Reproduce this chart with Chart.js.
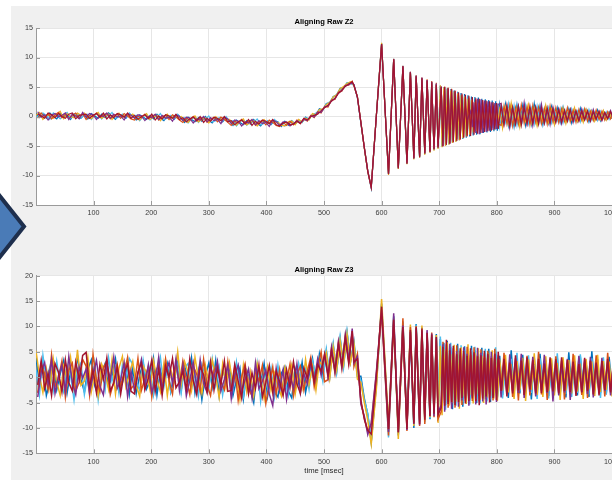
<!DOCTYPE html>
<html>
<head>
<meta charset="utf-8">
<script src="https://cdn.jsdelivr.net/npm/chart.js@4.4.1/dist/chart.umd.min.js"></script>
<style>
  body { margin: 0; width: 612px; height: 480px; overflow: hidden; background: #fff; position: relative; }
  #fig { position: absolute; left: 11px; top: 6px; right: 0; bottom: 0; background: #f0f0f0; }
  .panel { position: absolute; left: 0; width: 612px; height: 240px; }
  #arrow { position: absolute; left: 0; top: 0; }
</style>
</head>
<body>
<div id="fig"></div>
<div class="panel" style="top:0"><canvas id="z2" width="612" height="240"></canvas></div>
<div class="panel" style="top:240px"><canvas id="z3" width="612" height="240"></canvas></div>
<svg id="arrow" width="60" height="480">
  <polygon points="-20,171 24,226.5 -20,282" fill="#4a7bb7" stroke="#1e2f4d" stroke-width="4" stroke-linejoin="miter"/>
</svg>
<script>
// sample times (ms): 6 ms steps up to the first trough, then peaks/troughs of the ringing
const timeMs = [
  0, 6, 12, 18, 24, 30, 36, 42, 48, 54, 60, 66, 72, 78,
  84, 90, 96, 102, 108, 114, 120, 126, 132, 138, 144, 150, 156, 162,
  168, 174, 180, 186, 192, 198, 204, 210, 216, 222, 228, 234, 240, 246,
  252, 258, 264, 270, 276, 282, 288, 294, 300, 306, 312, 318, 324, 330,
  336, 342, 348, 354, 360, 366, 372, 378, 384, 390, 396, 402, 408, 414,
  420, 426, 432, 438, 444, 450, 456, 462, 468, 474, 480, 486, 492, 498,
  504, 510, 516, 522, 528, 534, 540, 546, 552, 558, 564, 570, 576, 582,
  591, 600, 612, 621, 629, 637, 644, 650, 656, 660, 666, 670, 675, 679, 684, 687, 691, 695, 698,
  702, 705, 708, 711, 714, 717, 720, 723, 726, 729, 732, 735, 738, 741, 744, 747, 750,
  753, 756, 759, 762, 765, 768, 771, 774, 777, 780, 783, 786, 789, 792, 795, 798, 801,
  805, 810, 815, 820, 825, 830, 835, 840, 845, 850, 855, 860, 865, 870, 875, 880, 885, 890, 895, 900,
  905, 910, 915, 920, 925, 930, 935, 940, 945, 950, 955, 960, 965, 970, 975, 980, 985, 990, 995, 1000
];
// the same run sampled half a step later (noisy parts only)
const timeMsShift = [
  3, 9, 15, 21, 27, 33, 39, 45, 51, 57, 63, 69, 75, 81,
  87, 93, 99, 105, 111, 117, 123, 129, 135, 141, 147, 153, 159, 165,
  171, 177, 183, 189, 195, 201, 207, 213, 219, 225, 231, 237, 243, 249,
  255, 261, 267, 273, 279, 285, 291, 297, 303, 309, 315, 321, 327, 333,
  339, 345, 351, 357, 363, 369, 375, 381, 387, 393, 399, 405, 411, 417,
  423, 429, 435, 441, 447, 453, 459, 465, 471, 477, 483, 489, 495, 501,
  507, 513, 519, 525, 531, 537, 543, 549, 552, 558, 564, 570, 576, 582,
  591, 600, 612, 621, 629, 637, 644, 650, 656, 660, 666, 670, 675, 679, 684, 687, 691, 695, 698,
  703.5, 706.5, 709.5, 712.5, 715.5, 718.5, 721.5, 724.5, 727.5, 730.5, 733.5, 736.5, 739.5, 742.5, 745.5, 748.5, 751.5,
  754.5, 757.5, 760.5, 763.5, 766.5, 769.5, 772.5, 775.5, 778.5, 781.5, 784.5, 787.5, 790.5, 793.5, 796.5, 799.5, 802.5,
  807.5, 812.5, 817.5, 822.5, 827.5, 832.5, 837.5, 842.5, 847.5, 852.5, 857.5, 862.5, 867.5, 872.5, 877.5, 882.5, 887.5, 892.5, 897.5, 902.5,
  907.5, 912.5, 917.5, 922.5, 927.5, 932.5, 937.5, 942.5, 947.5, 952.5, 957.5, 962.5, 967.5, 972.5, 977.5, 982.5, 987.5, 992.5, 997.5, 1002.5
];

const xTicks = [100, 200, 300, 400, 500, 600, 700, 800, 900, 1000];
const runColors = ["#0072BD", "#D95319", "#EDB120", "#7E2F8E", "#4DBEEE", "#A2142F"];
// drawing order, first one ends up on top
const stackOrder = [5, 3, 1, 2, 4, 0];

// ---- Aligning Raw Z2 ----
const z2Run1 = [
  0.5, -0.2, 0.4, -0.3, 0.6, 0.0, -0.4, 0.5, -0.1, 0.3, -0.5, 0.4, 0.1, -0.3,
  0.3, -0.4, 0.5, 0.1, -0.3, 0.4, -0.2, 0.6, 0.0, -0.5, 0.3, 0.2, -0.3, 0.4,
  0.2, -0.6, 0.3, -0.1, -0.5, 0.2, -0.4, 0.4, -0.3, -0.7, 0.1, 0.0, -0.5, 0.3,
  -0.2, -1.0, -0.1, -0.5, -0.9, -0.2, -0.8, 0.0, -0.7, -1.1, -0.3, -0.4, -0.9, -0.2,
  -0.7, -1.5, -0.6, -1.0, -1.4, -0.7, -1.3, -0.5, -1.2, -1.6, -0.8, -0.9, -1.4, -0.7,
  -0.9, -1.7, -0.8, -1.5, -0.7, -1.3, -0.6, -1.0, -0.1, -0.5, 0.4, 0.2, 1.3, 1.1,
  2.2, 2.3, 3.4, 3.6, 4.8, 4.9, 5.7, 5.6, 5.4, 3.2, -1.1, -5.3, -9.3, -12.1,
  0.3, 12.4, -9.8, 9.7, -8.8, 8.5, -8.0, 7.5, -7.1, 6.9, -6.9, 6.5, -6.3, 6.1, -6.0, 5.8, -5.6, 5.5, -5.3,
  5.2, -5.1, 5.0, -4.9, 4.8, -4.7, 4.6, -4.4, 4.4, -4.2, 4.2, -4.0, 4.0, -3.8, 3.8, -3.6, 3.6,
  -3.4, 3.4, -3.2, 3.3, -3.1, 3.2, -3.0, 3.0, -2.8, 2.9, -2.7, 2.8, -2.6, 2.7, -2.5, 2.6, -2.4,
  2.0, -1.6, 2.1, -1.5, 1.8, -1.7, 2.0, -1.4, 1.9, -1.5, 1.7, -1.3, 2.2, -1.2, 1.8, -1.4, 1.6, -1.1, 1.7, -1.2,
  1.5, -1.0, 1.6, -0.9, 1.3, -1.1, 1.2, -0.8, 1.4, -0.7, 1.1, -0.9, 1.0, -0.6, 1.1, -0.7, 0.9, -0.5, 0.8, -0.4
];
const z2Run2 = [
  -0.3, 0.6, -0.1, 0.5, -0.4, 0.3, 0.7, -0.2, 0.4, -0.4, 0.2, 0.6, -0.3, 0.5,
  -0.5, 0.2, 0.0, 0.6, -0.2, 0.3, 0.5, -0.4, 0.2, 0.4, -0.3, 0.5, 0.1, -0.4,
  -0.6, 0.1, -0.2, 0.4, -0.4, 0.1, 0.3, -0.6, 0.0, 0.2, -0.5, 0.3, -0.1, -0.6,
  -1.0, -0.3, -0.6, 0.0, -0.8, -0.3, -0.1, -1.0, -0.4, -0.2, -0.9, -0.1, -0.5, -1.0,
  -1.5, -0.8, -1.1, -0.5, -1.3, -0.8, -0.6, -1.5, -0.9, -0.7, -1.4, -0.6, -1.0, -1.5,
  -1.7, -1.0, -1.5, -0.8, -1.4, -0.6, -1.2, -0.4, -0.8, 0.2, -0.2, 0.8, 0.6, 1.7,
  1.6, 2.8, 2.9, 4.1, 4.3, 5.3, 5.3, 6.0, 5.2, 3.4, -0.9, -5.2, -9.2, -11.9,
  0.2, 12.2, -9.6, 9.8, -8.6, 8.6, -7.8, 7.6, -7.0, 7.0, -6.7, 6.6, -6.1, 6.3, -5.8, 6.0, -5.4, 5.7, -5.1,
  5.0, -4.9, 5.1, -4.7, 4.9, -4.5, 4.7, -4.3, 4.3, -4.1, 4.0, -3.9, 3.7, -3.5, 3.5, -3.2, 3.2,
  -2.9, 3.0, -2.6, 2.8, -2.4, 2.5, -2.2, 2.4, -2.0, 2.1, -1.9, 2.2, -1.6, 1.8, -1.5, 2.0, -1.3,
  -1.5, 1.8, -1.2, 1.9, -1.6, 1.5, -1.3, 2.0, -1.1, 1.7, -1.4, 1.9, -1.0, 1.6, -1.2, 1.4, -1.3, 1.8, -0.9, 1.5,
  -1.0, 1.3, -0.8, 1.5, -0.9, 1.1, -1.0, 1.2, -0.6, 1.3, -0.8, 0.9, -0.7, 1.1, -0.5, 0.9, -0.6, 0.8, -0.4, 0.7
];
const z2Run3 = [
  0.2, 0.7, -0.5, 0.1, 0.4, -0.3, 0.3, 0.9, -0.4, 0.5, 0.0, -0.2, 0.6, 0.2,
  0.6, -0.1, -0.4, 0.3, 0.7, -0.3, 0.1, 0.4, -0.5, 0.2, 0.6, -0.2, 0.3, 0.0,
  0.4, -0.3, -0.6, 0.1, 0.5, -0.5, -0.1, 0.2, -0.7, 0.0, 0.4, -0.4, 0.1, -0.2,
  0.0, -0.7, -1.0, -0.3, 0.1, -0.9, -0.5, -0.2, -1.1, -0.4, 0.0, -0.8, -0.3, -0.6,
  -0.5, -1.2, -1.5, -0.8, -0.4, -1.4, -1.0, -0.7, -1.6, -0.9, -0.5, -1.3, -0.8, -1.1,
  -1.0, -1.5, -1.6, -0.9, -0.8, -1.4, -0.5, -0.9, -0.3, -0.6, 0.5, 0.3, 1.2, 1.3,
  2.0, 2.4, 3.3, 3.7, 4.7, 5.1, 5.6, 5.9, 5.3, 3.3, -1.0, -5.4, -9.4, -12.0,
  0.4, 12.5, -9.9, 9.6, -8.9, 8.4, -8.1, 7.4, -7.3, 6.8, -7.0, 6.4, -6.5, 6.0, -6.2, 5.7, -5.8, 5.4, -5.5,
  5.3, -5.2, 4.9, -5.0, 4.6, -4.8, 4.4, -4.5, 4.2, -4.3, 3.9, -4.0, 3.6, -3.7, 3.3, -3.4, 3.0,
  -3.1, 2.8, -2.7, 2.5, -2.5, 2.2, -2.2, 2.0, -1.9, 1.8, -1.7, 1.6, -1.5, 1.4, -1.5, 1.3, -1.2,
  1.2, -2.0, 1.5, -1.2, 2.3, -1.0, 1.4, -1.8, 1.1, -0.8, 2.0, -1.1, 1.3, -1.6, 0.9, -0.9, 1.9, -1.0, 1.2, -1.4,
  0.8, -0.6, 1.4, -1.2, 0.9, -0.5, 1.5, -0.8, 0.7, -1.0, 1.2, -0.4, 0.9, -0.8, 0.6, -0.5, 1.0, -0.6, 0.7, -0.3
];
const z2Run4 = [
  0.8, -0.1, 0.3, -0.6, 0.2, 0.5, -0.1, 0.2, 0.6, -0.5, 0.4, 0.1, -0.4, 0.7,
  -0.1, 0.5, 0.3, -0.5, 0.2, 0.0, 0.6, -0.3, 0.4, -0.1, 0.1, -0.6, 0.5, 0.2,
  -0.3, 0.3, 0.1, -0.7, 0.0, -0.2, 0.4, -0.5, 0.2, -0.3, -0.1, -0.8, 0.3, 0.0,
  -0.7, -0.1, -0.3, -1.1, -0.4, -0.6, 0.0, -0.9, -0.2, -0.7, -0.5, -1.2, -0.1, -0.4,
  -1.2, -0.6, -0.8, -1.6, -0.9, -1.1, -0.5, -1.4, -0.7, -1.2, -1.0, -1.7, -0.6, -0.9,
  -1.5, -0.9, -1.0, -1.6, -1.2, -0.7, -1.1, -0.5, -0.7, 0.1, -0.1, 0.7, 0.7, 1.6,
  1.8, 2.7, 3.0, 4.0, 4.4, 5.2, 5.4, 5.7, 5.4, 3.2, -1.0, -5.3, -9.3, -12.0,
  0.3, 12.3, -9.7, 9.7, -8.7, 8.5, -7.9, 7.6, -7.1, 6.9, -6.8, 6.6, -6.2, 6.2, -5.9, 5.9, -5.5, 5.6, -5.2,
  5.1, -5.0, 4.9, -4.8, 4.7, -4.6, 4.4, -4.2, 4.1, -3.8, 3.6, -3.2, 2.8, -2.2, 1.5, -0.8, 0.2,
  0.9, -1.8, 2.4, -2.8, 3.0, -3.0, 2.9, -2.8, 2.7, -2.6, 2.6, -2.4, 2.4, -2.3, 2.3, -2.1, 2.1,
  2.2, -1.3, 1.6, -1.9, 1.4, -1.2, 1.8, -1.0, 2.4, -1.3, 1.2, -1.6, 1.5, -0.9, 2.1, -1.1, 1.0, -1.4, 1.6, -0.8,
  1.3, -1.2, 0.8, -0.7, 1.2, -1.0, 0.9, -0.6, 1.3, -0.5, 0.8, -0.8, 1.2, -0.4, 0.8, -0.7, 0.6, -0.3, 1.0, -0.5
];
const z2Run5 = [
  -0.2, 0.3, 0.6, 0.2, -0.5, 0.6, 0.2, -0.4, 0.3, 0.7, -0.3, 0.2, 0.5, -0.2,
  0.2, 0.4, -0.5, 0.2, 0.5, -0.4, 0.3, 0.1, 0.7, -0.3, -0.1, 0.4, -0.2, 0.6,
  0.0, 0.2, -0.7, 0.0, 0.3, -0.6, 0.1, -0.1, 0.5, -0.5, -0.3, 0.2, -0.4, 0.4,
  -0.4, -0.2, -1.1, -0.4, -0.1, -1.0, -0.3, -0.5, 0.1, -0.9, -0.7, -0.2, -0.8, 0.0,
  -0.9, -0.7, -1.6, -0.9, -0.6, -1.5, -0.8, -1.0, -0.4, -1.4, -1.2, -0.7, -1.3, -0.5,
  -1.1, -1.4, -1.6, -1.0, -0.8, -1.3, -0.6, -1.0, -0.2, -0.4, 0.3, 0.6, 1.1, 1.2,
  2.1, 2.5, 3.2, 3.8, 4.6, 4.8, 5.7, 5.8, 5.2, 3.4, -1.1, -5.3, -9.2, -12.1,
  0.2, 12.4, -9.8, 9.8, -8.8, 8.6, -8.0, 7.5, -7.2, 6.9, -6.9, 6.5, -6.4, 6.1, -6.1, 5.8, -5.7, 5.5, -5.4,
  5.2, -5.0, 5.0, -4.9, 4.7, -4.7, 4.5, -4.4, 4.3, -4.2, 4.1, -3.9, 3.9, -3.7, 3.5, -3.3, 3.2,
  -3.0, 2.9, -2.6, 2.4, -2.0, 1.6, -1.1, 0.6, 0.0, -0.6, 1.0, -1.5, 1.8, -2.0, 2.1, -2.2, 2.2,
  -1.8, 1.4, -1.0, 2.2, -1.2, 1.9, -1.5, 1.3, -0.9, 2.0, -1.2, 1.4, -1.3, 1.8, -1.0, 1.2, -0.8, 1.5, -1.1, 1.1,
  -0.7, 1.4, -1.1, 1.0, -0.6, 1.3, -0.7, 0.9, -0.9, 1.1, -0.5, 1.2, -0.6, 0.7, -0.7, 0.9, -0.3, 0.8, -0.5, 0.6
];
const z2Run6 = [
  0.4, 0.1, -0.3, 0.6, 0.3, -0.2, 0.5, 0.0, -0.3, 0.4, 0.6, -0.4, 0.2, 0.3,
  0.4, -0.3, 0.2, 0.5, -0.1, 0.6, -0.4, 0.3, -0.2, 0.5, 0.3, -0.1, 0.6, -0.3,
  0.2, -0.5, 0.0, 0.3, -0.3, 0.4, -0.6, 0.1, -0.4, 0.3, 0.1, -0.3, 0.4, -0.5,
  -0.2, -0.9, -0.4, -0.1, -0.7, 0.0, -1.0, -0.3, -0.8, -0.1, -0.3, -0.7, 0.0, -0.9,
  -0.7, -1.4, -0.9, -0.6, -1.2, -0.5, -1.5, -0.8, -1.3, -0.6, -0.8, -1.2, -0.5, -1.4,
  -1.6, -1.1, -0.9, -1.4, -1.3, -0.8, -1.2, -0.3, -0.6, 0.0, 0.2, 0.4, 1.0, 1.5,
  1.9, 2.6, 3.1, 3.9, 4.5, 5.1, 5.5, 5.9, 5.3, 3.3, -1.0, -5.3, -9.3, -12.0,
  0.3, 12.3, -9.8, 9.7, -8.8, 8.5, -8.0, 7.5, -7.1, 6.8, -6.9, 6.5, -6.3, 6.1, -6.0, 5.8, -5.6, 5.4, -5.3,
  5.1, -5.1, 5.0, -4.8, 4.8, -4.6, 4.6, -4.4, 4.4, -4.1, 4.1, -3.9, 3.9, -3.6, 3.7, -3.4, 3.5,
  -3.3, 3.3, -3.1, 3.1, -2.9, 3.0, -2.8, 2.8, -2.6, 2.7, -2.5, 2.6, -2.4, 2.4, -2.2, 2.3, -2.1,
  1.8, -1.4, 1.9, -1.6, 1.6, -1.3, 1.7, -1.5, 1.5, -1.2, 1.8, -1.0, 1.6, -1.3, 1.4, -1.1, 1.5, -0.9, 1.3, -1.0,
  1.2, -0.9, 1.1, -0.8, 1.2, -0.7, 1.0, -0.8, 0.9, -0.6, 1.0, -0.7, 0.8, -0.5, 0.9, -0.6, 0.7, -0.4, 0.8, -0.3
];

// ---- Aligning Raw Z3 ----
const z3Run1 = [
  3.8, -1.2, 2.4, -3.6, -0.8, 2.9, -2.5, 0.6, 3.3, -3.1, 1.1, -2.2, 4.2, -0.4,
  -2.9, 1.5, 3.4, -1.7, -3.8, 0.9, 2.7, -2.0, 0.3, 3.6, -2.6, -1.1, 2.2, -3.4,
  1.8, -3.2, 0.4, 2.9, -2.3, -0.6, 3.7, -3.5, 1.3, -1.0, 2.6, -2.8, 0.7, 3.1,
  -2.6, 2.3, -0.9, 3.8, -3.1, 1.2, -4.4, 0.2, 2.8, -1.9, 3.3, -3.6, 1.6, -0.7,
  2.1, -3.6, -0.5, 1.8, -4.3, 0.9, -2.4, -5.0, 1.5, -1.3, 2.7, -3.8, 0.2, -2.9,
  -3.9, 0.8, 2.1, -2.7, -4.1, 1.6, -1.2, 2.9, -3.0, 0.4, 3.7, -1.5, 4.5, 0.3,
  5.2, 0.1, 6.3, 1.2, 7.6, 2.3, 8.8, 3.0, 7.0, 0.2, 0.2, -4.2, -7.4, -12.8,
  -1.5, 14.5, -10.0, 12.0, -11.5, 10.8, -9.5, 9.0, -10.0, 10.5, -8.5, 9.8, -8.0, 8.2, -8.3, 7.9, -6.8, 8.5, -7.0,
  7.5, -6.2, 6.8, -5.5, 7.2, -4.8, 6.0, -6.3, 5.5, -4.2, 6.6, -5.0, 4.8, -5.8, 6.1, -3.9, 5.5,
  -4.6, 6.2, -4.0, 5.3, -5.1, 4.6, -3.6, 5.8, -4.4, 4.9, -3.8, 5.6, -4.9, 4.2, -3.5, 5.1, -4.0,
  4.2, -3.5, 3.0, -4.1, 5.3, -2.6, 3.6, -3.2, 4.4, -2.9, 2.8, -4.4, 3.9, -3.0, 4.6, -2.2, 3.3, -3.7, 2.6, -2.8,
  3.8, -3.3, 2.5, -4.0, 4.9, -2.7, 3.2, -3.6, 4.1, -2.4, 3.0, -3.9, 5.1, -2.6, 3.5, -3.1, 2.7, -3.4, 4.0, -2.5
];
const z3Run2 = [
  -3.1, 2.6, 0.7, -2.4, 4.4, -1.8, -0.3, 3.2, -3.9, 1.4, 2.8, -2.7, -1.0, 3.5,
  2.2, -3.5, 4.5, -0.6, -2.8, 1.9, 3.1, -3.4, -0.9, 2.5, -1.6, 0.8, 3.9, -2.3,
  -1.4, 3.7, -2.6, -0.2, 2.1, -3.9, 1.0, 2.4, -2.1, 3.6, -0.7, -3.3, 2.9, -1.2,
  3.2, -0.5, -3.4, 2.2, 0.6, -2.7, 3.5, -1.6, -3.6, 1.3, 2.6, -0.8, -2.5, 3.0,
  -3.0, 1.9, -4.6, 0.1, 2.6, -2.2, -3.7, 1.4, -0.9, 2.3, -5.1, -1.5, 2.0, -3.4,
  1.5, -3.2, -0.7, 2.6, -3.6, 0.5, 2.2, -2.5, 1.2, 3.9, -1.9, 2.0, 5.0, -0.9,
  -0.5, 5.6, 0.8, 6.8, 1.7, 8.1, 3.0, 8.9, 2.1, 4.6, -4.9, -8.0, -10.8, -9.3,
  0.8, 12.6, -11.5, 10.5, -10.3, 11.6, -10.6, 9.9, -8.8, 9.4, -9.6, 8.8, -9.2, 9.0, -7.2, 8.8, -7.9, 7.4, -8.2,
  -6.8, 7.0, -5.0, 6.5, -6.0, 5.8, -5.4, 4.9, -6.0, 6.3, -4.4, 5.2, -5.5, 4.6, -4.8, 6.0, -4.1,
  5.0, -4.7, 5.9, -3.9, 4.4, -4.8, 5.5, -3.6, 4.7, -4.3, 5.2, -3.3, 4.1, -4.6, 5.6, -3.2, 4.3,
  -3.2, 4.8, -2.5, 3.4, -3.9, 2.9, -4.6, 3.8, -2.4, 4.2, -3.6, 2.7, -2.8, 5.0, -3.4, 3.1, -4.5, 2.4, -3.3, 4.1,
  -2.9, 3.3, -4.4, 2.8, -3.1, 4.6, -2.3, 3.7, -3.5, 2.9, -4.1, 3.2, -2.7, 4.3, -3.0, 2.6, -3.8, 4.8, -2.6, 3.4
];
const z3Run3 = [
  5.2, 0.2, -3.0, 1.7, -2.2, 3.6, -0.9, -3.6, 2.2, -0.5, 3.9, -2.0, 5.4, -1.6,
  -0.8, 3.9, -2.9, 0.5, -3.7, 2.6, 0.9, -2.4, 3.5, -3.3, 1.8, 4.1, -1.9, 0.6,
  3.1, -1.6, -3.8, 2.2, 0.9, -2.5, 3.2, -0.4, -2.9, 2.7, -3.6, 1.5, -0.8, 5.0,
  -1.5, 3.1, 1.0, -2.6, 3.9, -0.3, -3.2, 2.4, -1.1, 3.4, 0.1, -4.0, 2.6, -2.0,
  2.8, -1.4, 0.6, -4.4, 2.3, -2.9, 1.1, -3.6, 2.7, -0.2, -4.2, 1.9, -2.6, 0.8,
  -1.8, -3.7, 1.9, -0.6, 2.4, -3.3, 0.8, -2.1, 3.5, -1.4, 2.1, -2.6, 3.1, 2.2,
  4.8, -0.2, 6.0, 1.5, 7.2, 2.6, 8.5, 2.9, 6.6, -0.4, -1.0, -5.0, -8.5, -13.2,
  -2.2, 15.4, -9.3, 11.6, -12.2, 9.6, -9.9, 10.4, -9.6, 10.1, -8.2, 10.2, -8.6, 7.8, -7.9, 8.0, -7.0, 8.3, -9.0,
  6.2, -7.5, 5.5, -4.6, 6.9, -5.6, 4.5, -5.0, 6.4, -4.8, 5.0, -6.2, 5.9, -3.8, 4.5, -5.3, 6.5,
  -3.5, 4.4, -5.2, 4.8, -3.4, 5.7, -4.5, 4.2, -5.1, 3.9, -4.0, 4.7, -3.7, 5.3, -4.2, 3.7, -4.7,
  3.5, -2.6, 4.4, -3.0, 2.6, -4.3, 3.2, -2.4, 3.8, -4.7, 3.5, -2.5, 4.7, -3.5, 2.5, -3.9, 4.1, -2.7, 3.7, -3.6,
  2.8, -4.5, 3.9, -2.6, 3.4, -3.2, 4.3, -2.8, 2.7, -4.3, 3.6, -2.4, 3.1, -3.7, 4.4, -2.9, 3.2, -2.5, 3.1, -3.8
];
const z3Run4 = [
  -3.9, 1.0, 2.9, -1.4, 3.4, -3.2, 0.3, 2.4, -2.8, 4.1, -1.0, -3.4, 2.0, -0.2,
  1.6, -3.0, 0.2, 3.3, -1.8, -3.5, 2.6, -0.4, 4.0, -2.2, -0.6, 2.9, -3.8, 1.2,
  -2.7, 0.6, 3.5, -1.8, 2.4, -3.0, -0.9, 3.9, -2.4, 0.8, 2.9, -1.3, 3.6, -2.6,
  2.4, -3.7, -0.6, 2.9, -2.0, 3.4, -1.3, -3.0, 1.9, -0.1, 3.1, -2.7, -0.4, 2.3,
  -4.2, 0.4, 2.4, -2.9, -0.5, 1.6, -4.0, 2.8, -2.3, -0.8, 1.5, -3.3, -5.6, 1.7,
  -2.6, 1.4, -4.4, 0.3, -2.2, 2.6, -3.1, 0.7, -1.3, 2.9, -0.6, 3.6, 0.4, 4.4,
  0.0, 5.9, 1.1, 7.0, 2.0, 8.4, 3.3, 9.6, 2.8, 4.1, -5.3, -7.7, -11.3, -9.0,
  1.2, 13.3, -10.8, 12.6, -10.8, 10.2, -10.4, 8.9, -9.2, 9.7, -9.4, 9.2, -7.8, 9.3, -7.6, 8.6, -7.7, 7.8, -6.9,
  -5.5, 6.5, -6.8, 5.0, -4.9, 6.6, -6.2, 5.7, -4.4, 5.1, -5.8, 4.4, -4.6, 5.9, -4.2, 4.6, -5.6,
  4.3, -3.8, 4.5, -5.4, 5.8, -3.7, 4.8, -4.8, 3.8, -5.4, 4.4, -4.2, 5.0, -3.6, 4.6, -4.9, 3.9,
  -4.0, 3.1, -3.3, 4.5, -2.7, 3.7, -3.1, 4.6, -4.1, 2.6, -2.9, 4.0, -3.8, 2.8, -2.6, 4.4, -3.1, 3.5, -4.8, 2.9,
  -3.6, 2.7, -3.0, 3.6, -4.5, 2.9, -3.4, 4.2, -2.9, 3.5, -3.3, 4.0, -4.0, 2.7, -3.2, 3.8, -2.7, 3.0, -3.6, 2.6
];
const z3Run5 = [
  1.4, -3.5, 4.3, -0.6, 2.0, -2.6, 3.1, -1.5, -3.0, 2.3, 0.5, -4.5, 1.6, 2.8,
  -3.4, 0.6, -1.5, 2.9, -4.4, 1.2, -2.5, 3.8, -0.7, 1.9, -3.1, 2.4, -0.2, 3.7,
  2.5, -0.9, -2.6, 3.3, -1.2, 2.0, -3.5, 0.3, 3.9, -2.0, 1.5, -2.9, -0.6, 2.4,
  -3.1, 1.9, 2.7, -2.3, 0.8, -3.7, 2.5, 0.2, -2.4, 3.5, -1.6, 2.0, -3.5, 1.0,
  0.6, -2.5, 3.0, -1.6, -3.9, 1.3, -0.4, -3.0, 2.6, -4.7, 0.9, -2.1, 1.8, -3.8,
  2.3, -2.8, -0.5, -3.6, 1.9, -2.5, 2.7, -0.7, 1.6, -2.4, 3.2, 0.4, 2.9, -0.8,
  5.5, 0.6, 6.6, 1.0, 7.9, 2.0, 9.0, 3.5, 6.3, 0.5, -0.6, -4.6, -7.2, -12.5,
  -0.9, 14.0, -11.9, 10.9, -11.2, 11.0, -9.7, 9.6, -9.5, 10.4, -8.9, 9.4, -8.9, 8.4, -8.1, 8.2, -7.4, 8.1, -7.6,
  8.0, -5.8, 6.1, -6.4, 5.4, -4.4, 6.8, -4.7, 5.0, -5.6, 4.6, -4.6, 6.3, -4.9, 5.3, -4.4, 4.4,
  -5.4, 5.4, -3.5, 6.0, -4.3, 4.0, -5.2, 4.6, -3.9, 5.6, -4.8, 3.9, -4.4, 4.8, -3.8, 5.9, -3.8,
  2.9, -4.2, 2.6, -2.8, 3.6, -3.4, 4.8, -2.7, 3.1, -3.3, 4.3, -3.1, 2.4, -4.3, 3.7, -2.6, 3.0, -4.2, 3.4, -2.4,
  4.7, -2.8, 3.4, -3.3, 2.6, -3.9, 2.9, -3.1, 4.5, -3.0, 2.6, -3.4, 3.7, -2.4, 2.9, -4.1, 3.9, -3.3, 2.8, -3.1
];
const z3Run6 = [
  -1.5, 3.3, -2.2, 0.8, -3.6, 2.7, 1.0, -2.9, 3.4, -1.1, -2.7, 3.0, -0.6, 4.3,
  4.9, -1.9, 1.4, -3.1, 2.5, -0.4, 3.8, -2.7, -1.2, 2.0, -3.3, 0.9, 2.6, -2.8,
  -3.3, 1.1, 2.8, -2.5, -0.2, 3.4, -2.8, 1.6, -3.6, 2.2, 0.0, 3.7, -2.1, -0.9,
  1.2, -2.4, 3.6, -0.7, -3.4, 2.1, 0.5, -2.9, 3.0, -2.5, 1.7, -1.4, 3.2, -2.8,
  -2.6, 2.5, -0.8, -4.1, 1.8, -3.3, 0.9, -2.2, 2.4, -3.9, -1.0, 2.3, -3.0, 1.2,
  -0.9, -3.6, 1.5, -2.0, 3.0, -1.3, -3.2, 1.8, -0.2, 3.3, -1.0, 2.5, 1.2, 4.6,
  0.4, 5.2, 1.4, 6.5, 2.4, 7.8, 2.6, 9.1, 3.0, 3.6, -4.5, -8.3, -10.5, -11.2,
  0.2, 13.9, -10.2, 11.3, -10.9, 9.9, -10.2, 9.3, -9.1, 10.0, -9.2, 9.6, -8.4, 8.7, -7.7, 8.4, -7.2, 7.9, -7.4,
  -6.0, 6.0, -5.6, 7.4, -5.3, 5.3, -4.9, 6.2, -5.5, 4.5, -4.9, 5.7, -4.1, 5.2, -5.2, 4.2, -4.7,
  5.7, -4.2, 4.9, -4.7, 4.1, -5.5, 4.3, -4.2, 5.2, -3.8, 4.6, -5.0, 3.8, -4.1, 4.6, -4.5, 5.0,
  -2.7, 3.6, -3.8, 2.9, -3.2, 4.3, -2.6, 3.3, -3.5, 3.9, -2.4, 3.4, -3.2, 3.6, -3.1, 2.7, -2.9, 3.9, -2.8, 3.5,
  -3.2, 3.9, -2.7, 3.4, -2.9, 3.1, -3.7, 2.6, -3.0, 3.8, -2.7, 3.3, -3.4, 2.9, -3.6, 3.2, -2.5, 3.6, -3.0, 2.7
];

const z2Runs = [z2Run1, z2Run2, z2Run3, z2Run4, z2Run5, z2Run6];
const z3Runs = [z3Run1, z3Run2, z3Run3, z3Run4, z3Run5, z3Run6];
const runTimes = [timeMs, timeMsShift, timeMs, timeMsShift, timeMs, timeMsShift];

const fontFamily = "'Liberation Sans', Arial, Helvetica, sans-serif";
const axisGray = "#9a9a9a";

function toPoints(times, ys) {
  return times.map((t, i) => ({ x: t, y: ys[i] }));
}

// white plot box + inward ticks like matlab
const axesBox = {
  id: "axesBox",
  beforeDraw(chart) {
    const { ctx, chartArea } = chart;
    ctx.save();
    ctx.fillStyle = "#fff";
    ctx.fillRect(chartArea.left, chartArea.top, chartArea.right - chartArea.left, chartArea.bottom - chartArea.top);
    ctx.restore();
  },
  afterDraw(chart) {
    const { ctx, chartArea, scales } = chart;
    ctx.save();
    ctx.strokeStyle = axisGray;
    ctx.lineWidth = 1;
    ctx.beginPath();
    for (const t of scales.x.ticks) {
      const px = Math.round(scales.x.getPixelForValue(t.value)) + 0.5;
      ctx.moveTo(px, chartArea.bottom);
      ctx.lineTo(px, chartArea.bottom - 4);
    }
    for (const t of scales.y.ticks) {
      const py = Math.round(scales.y.getPixelForValue(t.value)) + 0.5;
      ctx.moveTo(chartArea.left, py);
      ctx.lineTo(chartArea.left + 4, py);
    }
    ctx.stroke();
    ctx.restore();
  },
};

function makeChart(id, runs, yMin, yMax, titleText, titlePad, xHeight, xTitle, lineW) {
  const datasets = stackOrder.map((k) => ({
    data: toPoints(runTimes[k], runs[k]),
    borderColor: runColors[k],
    borderWidth: lineW,
    pointRadius: 0,
    tension: 0,
  }));
  return new Chart(document.getElementById(id), {
    type: "line",
    data: { datasets: datasets },
    plugins: [axesBox],
    options: {
      responsive: false,
      animation: false,
      devicePixelRatio: 1,
      layout: { padding: { top: 0, left: 0, right: 0, bottom: 0 } },
      plugins: {
        legend: { display: false },
        tooltip: { enabled: false },
        title: {
          display: true,
          text: titleText,
          fullSize: false,
          color: "#000",
          font: { family: fontFamily, size: 7.6, weight: "bold", lineHeight: 1.2 },
          padding: titlePad,
        },
      },
      scales: {
        x: {
          type: "linear",
          min: 0,
          max: 1000,
          afterBuildTicks: (scale) => {
            scale.ticks = xTicks.map((v) => ({ value: v }));
          },
          afterFit: (scale) => {
            scale.height = xHeight;
            scale.paddingLeft = 0;
            scale.paddingRight = 0;
          },
          grid: { color: "#e6e6e6", drawTicks: false },
          border: { color: axisGray },
          ticks: {
            autoSkip: false,
            maxRotation: 0,
            padding: 4,
            color: "#3a3a3a",
            font: { family: fontFamily, size: 7.2 },
            callback: (v) => String(v),
          },
          title: xTitle
            ? {
                display: true,
                text: xTitle,
                color: "#262626",
                font: { family: fontFamily, size: 7.7, lineHeight: 1.2 },
                padding: { top: 0, bottom: 4.7 },
              }
            : { display: false },
        },
        y: {
          min: yMin,
          max: yMax,
          afterFit: (scale) => {
            scale.width = 36;
            scale.paddingTop = 0;
            scale.paddingBottom = 0;
          },
          grid: { color: "#e6e6e6", drawTicks: false },
          border: { color: axisGray },
          ticks: {
            stepSize: 5,
            padding: 3,
            color: "#3a3a3a",
            font: { family: fontFamily, size: 7.2 },
          },
        },
      },
    },
  });
}

makeChart("z2", z2Runs, -15, 15, "Aligning Raw Z2", { top: 17.4, bottom: 1.5 }, 35, null, 1.2);
makeChart("z3", z3Runs, -15, 20, "Aligning Raw Z3", { top: 25.4, bottom: 1.2 }, 26.7, "time [msec]", 1.5);
</script>
</body>
</html>
